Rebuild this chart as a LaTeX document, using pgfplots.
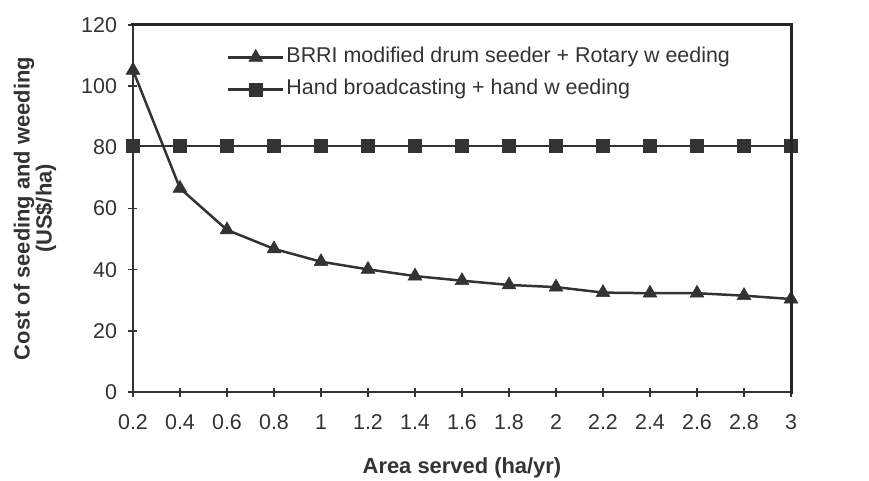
\documentclass[border=0pt]{standalone}
\usepackage{fontspec}
\setmainfont{Liberation Sans}
\usepackage{pgfplots}
\pgfplotsset{compat=1.18}
\usetikzlibrary{calc}
\definecolor{ink}{HTML}{333333}
\begin{document}
\begin{tikzpicture}
\useasboundingbox (-133bp,-89bp) rectangle (736bp,392bp);
\begin{axis}[
  at={(0,0)}, anchor=south west,
  scale only axis, width=658bp, height=367bp,
  clip=false,
  xmin=0, xmax=14, ymin=0, ymax=120,
  xtick={0,...,14},
  xticklabels={0.2,0.4,0.6,0.8,1,1.2,1.4,1.6,1.8,2,2.2,2.4,2.6,2.8,3},
  ytick={0,20,...,120},
  tick align=center, major tick length=9bp,
  xtick pos=bottom, ytick pos=left,
  axis line style={ink, line width=2bp},
  every tick/.style={ink, line width=1.5bp},
  tick label style={font=\fontsize{21.5}{25}\selectfont, text=ink},
  /pgf/number format/assume math mode=true,
  xticklabel style={anchor=center, yshift=-26bp},
  yticklabel style={anchor=east, xshift=-8bp},
  xlabel={Area served (ha/yr)},
  xlabel style={at={($(rel axis cs:0.5,0)+(0,-76bp)$)}, anchor=center, font=\bfseries\fontsize{22}{26}\selectfont, text=ink},
  ylabel={Cost of seeding and weeding\\[-3bp](US\$/ha)},
  ylabel style={at={($(rel axis cs:0,0.5)+(-98bp,0)$)}, anchor=center, rotate=0, align=center, font=\bfseries\fontsize{22}{25}\selectfont, text=ink},
  legend style={draw=none, fill=none, at={(rel axis cs:0.138,0.945)}, anchor=north west,
    font=\fontsize{21.5}{25}\selectfont, text=ink, row sep=12bp, column sep=2bp,
    nodes={inner sep=0pt, text height=15bp, text depth=5bp}},
  legend cell align=left,
  legend image code/.code={\draw[mark repeat=2,mark phase=2,#1] plot coordinates {(0bp,0bp) (27.5bp,0bp) (55bp,0bp)};},
]
\addplot[ink, line width=2.5bp, mark=triangle*, mark size=8bp, mark options={fill=ink, draw=ink, line width=0.5bp}]
coordinates {(0,105.2) (1,66.6) (2,53.0) (3,46.8) (4,42.6) (5,40.1) (6,37.9) (7,36.4) (8,35.0) (9,34.3) (10,32.5) (11,32.3) (12,32.3) (13,31.5) (14,30.4)};
\addlegendentry{BRRI modified drum seeder + Rotary w eeding}
\addplot[ink, line width=2.5bp, mark=square*, mark size=6.5bp, mark options={fill=ink, draw=ink, line width=0.5bp}]
coordinates {(0,80.5) (1,80.5) (2,80.5) (3,80.5) (4,80.5) (5,80.5) (6,80.5) (7,80.5) (8,80.5) (9,80.5) (10,80.5) (11,80.5) (12,80.5) (13,80.5) (14,80.5)};
\addlegendentry{Hand broadcasting + hand w eeding}
\end{axis}
\draw[black!85, line width=3bp, line cap=rect] (0,367bp) -- (658bp,367bp) -- (658bp,0);
\end{tikzpicture}
\end{document}
